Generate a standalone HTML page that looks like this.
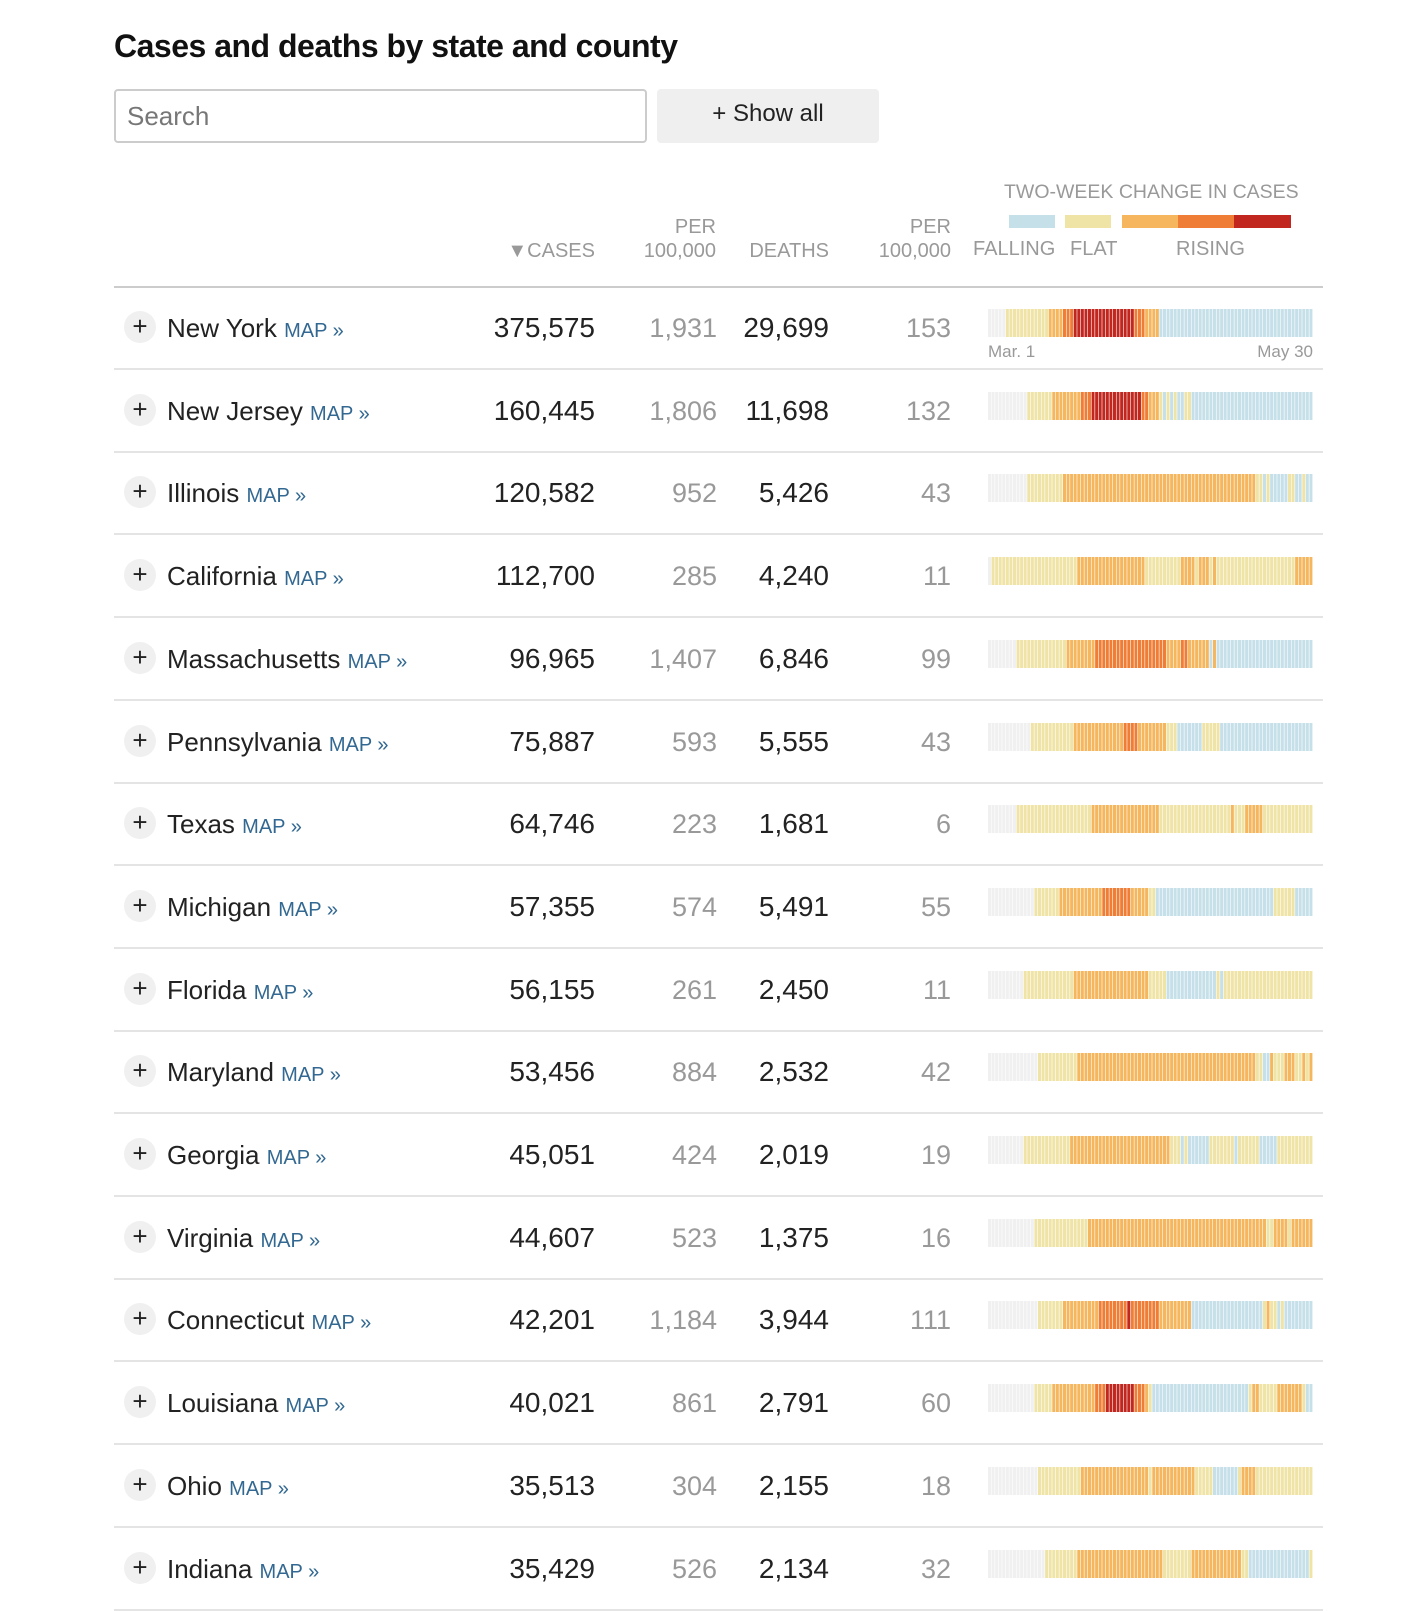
<!DOCTYPE html>
<html><head><meta charset="utf-8">
<style>
body{margin:0;width:1426px;height:1590px;background:#fff;font-family:"Liberation Sans",sans-serif;position:relative;overflow:hidden}
.a{position:absolute;white-space:nowrap}
.h{color:#999;font-size:19px}
.r{text-align:right}
.row{position:absolute;left:114px;width:1209px;height:83px;border-bottom:2px solid #e4e4e4;box-sizing:border-box}
.num{position:absolute;font-size:28px;color:#222;top:25px;text-align:right}
.gr{color:#999;font-size:27px;top:26px}
</style></head><body>
<div class="a" style="left:114px;top:28px;font-size:32px;font-weight:bold;color:#111;letter-spacing:-0.5px">Cases and deaths by state and county</div>
<div class="a" style="left:114px;top:89px;width:518px;height:50px;border:2px solid #ccc;border-radius:4px;font-size:26px;color:#777;line-height:50px;padding-left:11px;box-sizing:content-box">Search</div>
<div class="a" style="left:657px;top:89px;width:222px;height:54px;background:#efefef;border-radius:4px;font-size:24px;color:#222;line-height:50px;text-align:center">+ Show all</div>
<div class="a h" style="left:1004px;top:181px;font-size:19.5px">TWO-WEEK CHANGE IN CASES</div>
<div class="a" style="left:1009px;top:215px;width:46px;height:13px;background:#c6e0ea"></div>
<div class="a" style="left:1065px;top:215px;width:46px;height:13px;background:#efe3a6"></div>
<div class="a" style="left:1122px;top:215px;width:56px;height:13px;background:#f5b65e"></div>
<div class="a" style="left:1178px;top:215px;width:56px;height:13px;background:#ef7d35"></div>
<div class="a" style="left:1234px;top:215px;width:57px;height:13px;background:#c1271f"></div>
<div class="a h" style="left:973px;top:238px;font-size:20px">FALLING</div>
<div class="a h" style="left:1070px;top:238px;font-size:20px">FLAT</div>
<div class="a h" style="left:1176px;top:238px;font-size:20px">RISING</div>
<div class="a h r" style="right:831px;top:240px;font-size:20px">▼CASES</div>
<div class="a h r" style="right:710px;top:215px;font-size:20px;line-height:24px">PER<br>100,000</div>
<div class="a h r" style="right:597px;top:240px;font-size:20px">DEATHS</div>
<div class="a h r" style="right:475px;top:215px;font-size:20px;line-height:24px">PER<br>100,000</div>
<div class="a" style="left:114px;top:286px;width:1209px;height:2px;background:#ccc"></div>
<div id="rows"></div>
<script>
const states=["New York","New Jersey","Illinois","California","Massachusetts","Pennsylvania","Texas","Michigan","Florida","Maryland","Georgia","Virginia","Connecticut","Louisiana","Ohio","Indiana"];
const cases=["375,575","160,445","120,582","112,700","96,965","75,887","64,746","57,355","56,155","53,456","45,051","44,607","42,201","40,021","35,513","35,429"];
const casesPer=["1,931","1,806","952","285","1,407","593","223","574","261","884","424","523","1,184","861","304","526"];
const deaths=["29,699","11,698","5,426","4,240","6,846","5,555","1,681","5,491","2,450","2,532","2,019","1,375","3,944","2,791","2,155","2,134"];
const deathsPer=["153","132","43","11","99","43","6","55","11","42","19","16","111","60","18","32"];
// run-length daily trend categories (g none, b falling, y flat, 1/2/3 rising), Mar 1 - May 30
const trends=[
"g5 y12 14 23 317 23 14 b43",
"g11 y7 18 23 314 22 13 y1 b1 y1 b1 y1 b2 y2 b34",
"g11 y10 154 y2 b1 y1 b5 y2 b2 y1 b2",
"g1 y24 119 y10 14 y1 13 y1 11 y22 15",
"g8 y14 18 220 14 22 16 b1 11 b27",
"g12 y12 114 24 18 y3 b7 y5 b26",
"g8 y21 119 y20 11 y3 15 y14",
"g13 y7 112 28 15 y2 b33 y6 b5",
"g10 y14 121 y5 b14 y1 b1 y25",
"g14 y11 150 y2 b2 11 y3 13 y2 11 y1 11",
"g10 y13 128 y3 b1 y1 b6 y7 b1 y6 b5 y10",
"g13 y15 150 y2 14 y1 16",
"g14 y7 110 28 31 28 19 b20 y1 11 y2 b1 y1 b8",
"g13 y5 112 23 38 23 11 y1 b27 y1 12 y5 16 11 y1 b2",
"g14 y12 119 y1 112 y5 b7 y1 14 y16",
"g16 y9 124 y8 114 y2 b14 b3 y1"];
const COLORS={g:"#f0f0f0",b:"#c6e0ea",y:"#efe3a6","1":"#f5b65e","2":"#ef7d35","3":"#c1271f"};
const NDAYS=91, X0=988, X1=1313, TOP=287, RH=82.7;
const xDay=d=>X0+(X1-X0)*d/NDAYS;
const yRow=i=>TOP+RH*i;
const wrap=document.getElementById('rows');
const NS="http://www.w3.org/2000/svg";
states.forEach((s,i)=>{
  const row=document.createElement('div');
  row.className='row';
  row.style.top=yRow(i)+'px';
  
  
  const plus=document.createElement('div');
  plus.className='a';
  plus.style.cssText='left:10px;top:24px;width:32px;height:32px;border-radius:50%;background:#f0f0f0;font-size:26px;line-height:31px;text-align:center;color:#222';
  plus.textContent='+';
  
  
  row.appendChild(plus);
  const nm=document.createElement('div');
  nm.className='a';
  nm.style.cssText='left:53px;top:26px;font-size:26px;color:#222';
  nm.innerHTML=s+' <span style="color:#326891;font-size:20px">MAP »</span>';
  
  
  row.appendChild(nm);
  const cols=[[cases[i],481,''],[casesPer[i],603,'gr'],[deaths[i],715,''],[deathsPer[i],837,'gr']];
  cols.forEach((c,k)=>{
    const d=document.createElement('div');
    d.className='num '+c[2];
    d.style.right=(1209-c[1])+'px';
    d.textContent=c[0];
    
    
    row.appendChild(d);
  });
  wrap.appendChild(row);
  const svg=document.createElementNS(NS,'svg');
  svg.setAttribute('width',1426);svg.setAttribute('height',60);
  svg.style.cssText='position:absolute;left:0;top:'+(yRow(i)+22)+'px';
  
  
  let day=0;
  trends[i].split(' ').forEach(tok=>{
    const code=tok[0], n=parseInt(tok.slice(1));
    for(let k=0;k<n;k++){
      const r=document.createElementNS(NS,'rect');
      r.setAttribute('x',xDay(day));
      r.setAttribute('y',0);
      r.setAttribute('width',(X1-X0)/NDAYS-0.6);
      r.setAttribute('height',28);
      r.setAttribute('fill',COLORS[code]);
      
      
      svg.appendChild(r);
      day++;
    }
  });
  if(i===0){
    const t1=document.createElementNS(NS,'text');
    t1.setAttribute('x',X0);t1.setAttribute('y',48);t1.setAttribute('font-size',17);t1.setAttribute('fill','#999');
    t1.setAttribute('font-family','Liberation Sans, sans-serif');
    t1.textContent='Mar. 1';
    
    
    svg.appendChild(t1);
    const t2=document.createElementNS(NS,'text');
    t2.setAttribute('x',X1);t2.setAttribute('y',48);t2.setAttribute('font-size',17);t2.setAttribute('fill','#999');
    t2.setAttribute('text-anchor','end');
    t2.setAttribute('font-family','Liberation Sans, sans-serif');
    t2.textContent='May 30';
    
    
    svg.appendChild(t2);
  }
  wrap.appendChild(svg);
});
</script>
</body></html>
